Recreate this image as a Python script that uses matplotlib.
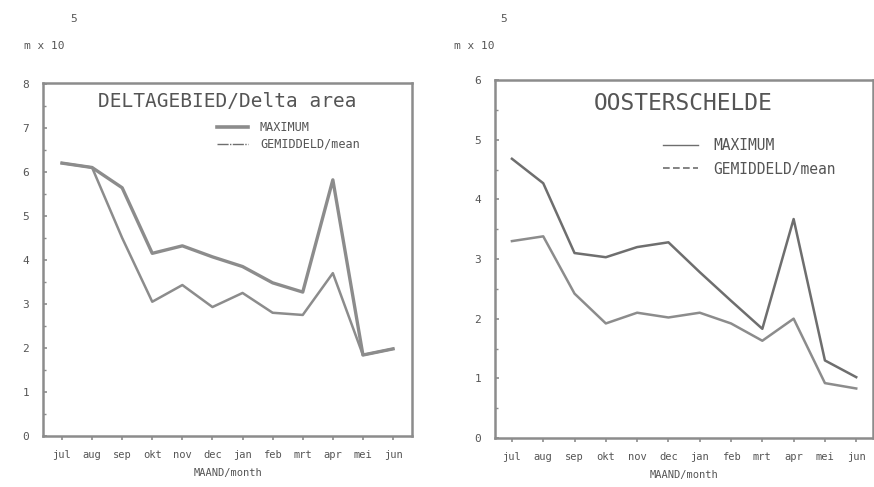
import matplotlib.pyplot as plt
from matplotlib.lines import Line2D
from matplotlib.ticker import MultipleLocator

plt.rcParams["font.family"] = "DejaVu Sans Mono"

months = ["jul", "aug", "sep", "okt", "nov", "dec", "jan", "feb", "mrt", "apr", "mei", "jun"]

# Deltagebied / Delta area  (m x 10^5)
delta_max = [6.2, 6.1, 5.64, 4.15, 4.32, 4.07, 3.85, 3.48, 3.27, 5.82, 1.84, 1.98]
delta_mean = [6.2, 6.1, 4.5, 3.05, 3.43, 2.93, 3.25, 2.8, 2.75, 3.7, 1.84, 1.98]

# Oosterschelde
oost_max = [4.68, 4.27, 3.1, 3.03, 3.2, 3.28, 2.78, 2.3, 1.83, 3.67, 1.3, 1.02]
oost_mean = [3.3, 3.38, 2.42, 1.92, 2.1, 2.02, 2.1, 1.92, 1.63, 2.0, 0.92, 0.83]

GREY = "#8c8c8c"
DARK = "#6e6e6e"
TXT = "#555555"

fig = plt.figure(figsize=(8.74, 4.87), dpi=100)
ax1 = fig.add_axes([0.0492, 0.1047, 0.4222, 0.7249])
ax2 = fig.add_axes([0.5664, 0.1006, 0.4326, 0.7351])


def style(ax, ymax, xlim):
    x = range(len(months))
    ax.set_xlim(*xlim)
    ax.set_ylim(0, ymax)
    ax.set_xticks(list(x))
    ax.set_xticklabels(months, fontsize=7.5, color=TXT)
    ax.set_yticks(range(0, int(round(ymax)) + 1))
    ax.yaxis.set_minor_locator(MultipleLocator(0.5))
    ax.tick_params(axis="x", direction="out", length=3, width=1.2, color=GREY, pad=7)
    ax.tick_params(axis="y", which="major", direction="in", length=3, width=1.2,
                   color=GREY, labelsize=8, labelcolor=TXT, pad=10)
    ax.tick_params(axis="y", which="minor", direction="in", length=2, width=1, color=GREY)
    for s in ax.spines.values():
        s.set_color(GREY)
        s.set_linewidth(1.8)
    ax.set_xlabel("MAAND/month", fontsize=7.5, color=TXT, labelpad=6)


x = list(range(len(months)))

# left panel
ax1.plot(x, delta_max, color=GREY, lw=2.4, solid_joinstyle="round")
ax1.plot(x, delta_mean, color=GREY, lw=1.8, solid_joinstyle="round")
style(ax1, 8.02, (-0.63, 11.63))
ax1.text(0.5, 0.948, "DELTAGEBIED/Delta area", transform=ax1.transAxes,
         ha="center", va="center", fontsize=14, color=TXT)
h1 = [Line2D([], [], color=GREY, lw=2.6), Line2D([], [], color=DARK, lw=1, ls=(0, (8, 1, 1, 1)))]
ax1.legend(h1, ["MAXIMUM", "GEMIDDELD/mean"], loc="upper left", bbox_to_anchor=(0.46, 0.905),
           frameon=False, fontsize=8.5, labelcolor=TXT, handlelength=2.6, handletextpad=1.0,
           labelspacing=0.3, borderaxespad=0)

# right panel
ax2.plot(x, oost_max, color=DARK, lw=1.8, solid_joinstyle="round")
ax2.plot(x, oost_mean, color=GREY, lw=1.8, solid_joinstyle="round")
style(ax2, 6.0, (-0.54, 11.54))
ax2.text(0.497, 0.935, "OOSTERSCHELDE", transform=ax2.transAxes,
         ha="center", va="center", fontsize=16.5, color=TXT)
h2 = [Line2D([], [], color=DARK, lw=1), Line2D([], [], color=DARK, lw=1.2, ls=(0, (4, 2)))]
ax2.legend(h2, ["MAXIMUM", "GEMIDDELD/mean"], loc="upper left", bbox_to_anchor=(0.43, 0.855),
           frameon=False, fontsize=10.5, labelcolor=TXT, handlelength=2.4, handletextpad=1.0,
           labelspacing=0.6, borderaxespad=0)

# unit labels
for xf, in [(0.028,), (0.520,)]:
    fig.text(xf, 0.905, "m x 10", fontsize=8, color=TXT, ha="left", va="center")
    fig.text(xf + 0.056, 0.962, "5", fontsize=8, color=TXT, ha="center", va="center")

fig.savefig("out.png", dpi=100)
